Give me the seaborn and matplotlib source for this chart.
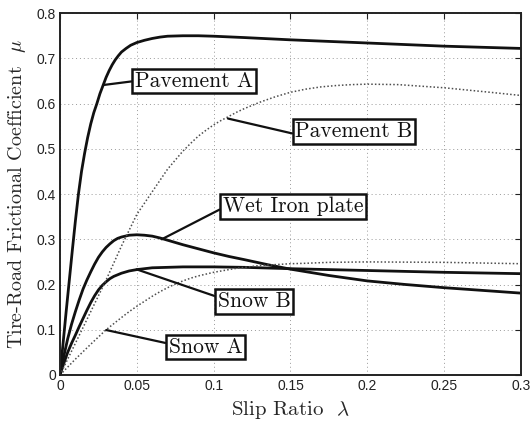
import pandas as pd
import matplotlib
matplotlib.use("Agg")
import matplotlib.pyplot as plt
import seaborn as sns

# Curve data (slip ratio vs friction coefficient)
pav_a_x = [0, 0.004, 0.008, 0.010, 0.012, 0.014, 0.016, 0.018, 0.020, 0.022, 0.024, 0.026,
           0.028, 0.030, 0.032, 0.034, 0.036, 0.038, 0.040, 0.043, 0.046, 0.050, 0.055,
           0.060, 0.065, 0.070, 0.080, 0.090, 0.1, 0.12, 0.15, 0.2, 0.25, 0.3]
pav_a_y = [0, 0.14, 0.275, 0.34, 0.40, 0.45, 0.49, 0.525, 0.555, 0.58, 0.60, 0.622,
           0.64, 0.658, 0.673, 0.686, 0.697, 0.706, 0.714, 0.722, 0.729, 0.735, 0.740,
           0.744, 0.747, 0.749, 0.75, 0.75, 0.749, 0.746, 0.741, 0.734, 0.727, 0.722]

pav_b_x = [0, 0.01, 0.02, 0.03, 0.04, 0.05, 0.06, 0.07, 0.08, 0.085, 0.09, 0.095, 0.1,
           0.105, 0.11, 0.115, 0.12, 0.125, 0.13, 0.135, 0.14, 0.145, 0.15, 0.16, 0.17,
           0.18, 0.19, 0.2, 0.22, 0.25, 0.28, 0.3]
pav_b_y = [0, 0.07, 0.14, 0.21, 0.285, 0.355, 0.405, 0.455, 0.495, 0.512, 0.528, 0.541, 0.553,
           0.563, 0.572, 0.581, 0.589, 0.596, 0.603, 0.609, 0.615, 0.62, 0.625, 0.632, 0.637,
           0.64, 0.642, 0.643, 0.642, 0.635, 0.625, 0.618]

iron_x = [0, 0.0025, 0.005, 0.0075, 0.01, 0.0125, 0.015, 0.0175, 0.02, 0.0225, 0.025, 0.0275,
          0.03, 0.0325, 0.035, 0.0375, 0.04, 0.045, 0.05, 0.055, 0.06, 0.065, 0.07, 0.08,
          0.09, 0.1, 0.11, 0.12, 0.135, 0.15, 0.175, 0.2, 0.225, 0.25, 0.275, 0.3]
iron_y = [0, 0.042, 0.08, 0.112, 0.14, 0.166, 0.19, 0.21, 0.228, 0.245, 0.26, 0.272,
          0.282, 0.29, 0.297, 0.302, 0.305, 0.309, 0.31, 0.309, 0.307, 0.303, 0.298, 0.288,
          0.279, 0.27, 0.262, 0.255, 0.244, 0.234, 0.22, 0.208, 0.2, 0.193, 0.187, 0.181]

snow_b_x = [0, 0.0025, 0.005, 0.0075, 0.01, 0.0125, 0.015, 0.0175, 0.02, 0.0225, 0.025, 0.0275,
            0.03, 0.0325, 0.035, 0.04, 0.045, 0.05, 0.055, 0.06, 0.07, 0.08, 0.1, 0.12,
            0.15, 0.2, 0.25, 0.3]
snow_b_y = [0, 0.026, 0.05, 0.07, 0.088, 0.107, 0.125, 0.143, 0.16, 0.175, 0.188, 0.198,
            0.206, 0.213, 0.218, 0.225, 0.23, 0.233, 0.235, 0.237, 0.238, 0.239, 0.239, 0.238,
            0.235, 0.231, 0.227, 0.224]

snow_a_x = [0, 0.01, 0.02, 0.03, 0.04, 0.045, 0.05, 0.055, 0.06, 0.065, 0.07, 0.075, 0.08,
            0.085, 0.09, 0.095, 0.1, 0.105, 0.115, 0.13, 0.14, 0.15, 0.16, 0.175, 0.2,
            0.25, 0.3]
snow_a_y = [0, 0.035, 0.068, 0.1, 0.127, 0.14, 0.152, 0.163, 0.174, 0.184, 0.193, 0.201, 0.208,
            0.214, 0.219, 0.223, 0.227, 0.23, 0.236, 0.242, 0.244, 0.246, 0.247, 0.249, 0.25,
            0.249, 0.246]

x_ticks = [0, 0.05, 0.1, 0.15, 0.2, 0.25, 0.3]
x_tick_labels = ["0", "0.05", "0.1", "0.15", "0.2", "0.25", "0.3"]
y_ticks = [0, 0.1, 0.2, 0.3, 0.4, 0.5, 0.6, 0.7, 0.8]
y_tick_labels = ["0", "0.1", "0.2", "0.3", "0.4", "0.5", "0.6", "0.7", "0.8"]

# label text, point on curve, box centre, where the leader meets the box
labels = ["Pavement A", "Pavement B", "Wet Iron plate", "Snow B", "Snow A"]
label_pts = [(0.028, 0.641), (0.1093, 0.567), (0.0662, 0.300), (0.0499, 0.2335), (0.0301, 0.0994)]
label_box = [(0.0872, 0.650), (0.1914, 0.538), (0.1518, 0.373), (0.1263, 0.162), (0.0947, 0.0619)]
label_rel = [(0, 0.5), (0, 0.37), (0, 0.42), (0, 0.74), (0, 0.67)]

sns.set_theme(style="white")
plt.rcParams["font.family"] = ["Liberation Sans", "DejaVu Sans"]
plt.rcParams["mathtext.fontset"] = "cm"

fig = plt.figure(figsize=(5.31, 4.24), dpi=100)
ax = fig.add_axes([0.113, 0.1156, 0.868, 0.8534])

solid = dict(color="#111111", linewidth=2.0)
dotted = dict(color="#4d4d4d", linewidth=1.1, linestyle=(0, (1, 1.4)))

sns.lineplot(x=pav_a_x, y=pav_a_y, ax=ax, sort=False, **solid)
sns.lineplot(x=iron_x, y=iron_y, ax=ax, sort=False, **solid)
sns.lineplot(x=snow_b_x, y=snow_b_y, ax=ax, sort=False, **solid)
sns.lineplot(x=pav_b_x, y=pav_b_y, ax=ax, sort=False, **dotted)
sns.lineplot(x=snow_a_x, y=snow_a_y, ax=ax, sort=False, **dotted)

ax.set_xlim(0, 0.3)
ax.set_ylim(0, 0.8)
ax.set_xticks(x_ticks)
ax.set_xticklabels(x_tick_labels)
ax.set_yticks(y_ticks)
ax.set_yticklabels(y_tick_labels)
ax.tick_params(direction="in", length=4, width=0.8, top=True, right=True,
               labelsize=10, colors="#222222", pad=3)
ax.grid(True, color="#999999", linestyle=(0, (1, 3)), linewidth=0.7)
for sp in ax.spines.values():
    sp.set_color("#222222")
    sp.set_linewidth(1.4)

ax.set_xlabel(r"Slip Ratio  $\lambda$", fontfamily="cmr10", fontsize=15, labelpad=4)
ax.set_ylabel(r"Tire-Road Frictional Coefficient  $\mu$", fontfamily="cmr10", fontsize=14.5,
              labelpad=6)

for txt, pt, box, rel in zip(labels, label_pts, label_box, label_rel):
    ax.annotate(txt, xy=pt, xytext=box, ha="center", va="center",
                fontfamily="cmr10", fontsize=15.5, color="#111111",
                bbox=dict(boxstyle="square,pad=0.12", fc="white", ec="#111111", lw=1.8),
                arrowprops=dict(arrowstyle="-", color="#111111", lw=1.6,
                                shrinkA=0, shrinkB=0, relpos=rel))

plt.savefig("out.png", dpi=100)
plt.close()
